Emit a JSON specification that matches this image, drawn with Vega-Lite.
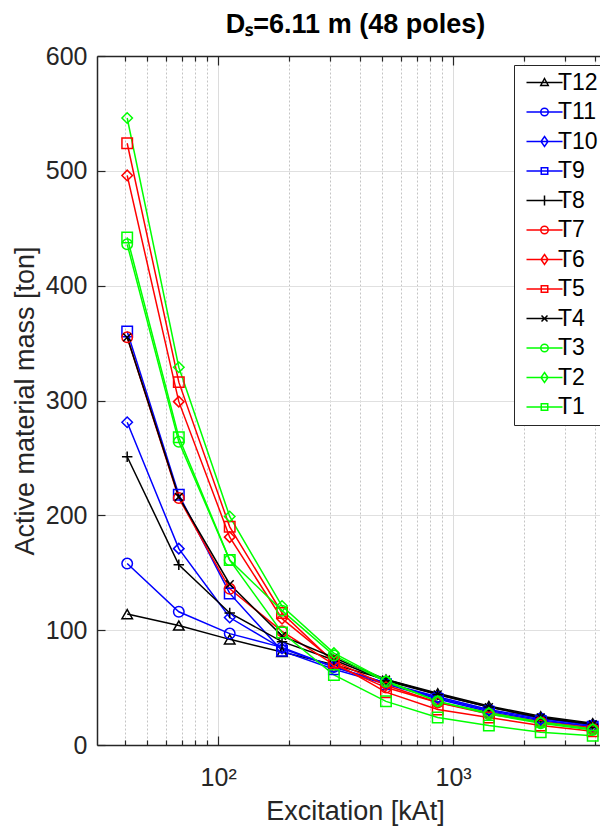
{
  "$schema": "https://vega.github.io/schema/vega-lite/v6.json",
  "width": 503,
  "height": 689,
  "autosize": {"type": "none"},
  "padding": {"left": 97, "top": 56, "right": 0, "bottom": 82},
  "background": "white",
  "config": {
    "font": "Liberation Sans",
    "view": {"stroke": null},
    "axis": {"domainColor": "#262626", "tickColor": "#262626", "labelColor": "#262626", "titleColor": "#262626", "labelFontSize": 25, "titleFontSize": 27, "titleFontWeight": "normal", "domainWidth": 1.5, "tickWidth": 1.2}
  },
  "title": {"text": "Dₛ=6.11 m (48 poles)", "fontSize": 27, "fontWeight": "bold", "color": "#000000", "anchor": "middle", "frame": "group", "offset": 5, "dx": 7},
  "data": {"values": [
    {"s":"T12","x":41,"y":114},{"s":"T12","x":68,"y":104},{"s":"T12","x":112,"y":92},{"s":"T12","x":187,"y":81},{"s":"T12","x":311,"y":70},{"s":"T12","x":518,"y":57},{"s":"T12","x":860,"y":45},{"s":"T12","x":1420,"y":34},{"s":"T12","x":2360,"y":25},{"s":"T12","x":3930,"y":19},
    {"s":"T11","x":41,"y":158},{"s":"T11","x":68,"y":116},{"s":"T11","x":112,"y":97},{"s":"T11","x":187,"y":85},{"s":"T11","x":311,"y":68},{"s":"T11","x":518,"y":54},{"s":"T11","x":860,"y":42},{"s":"T11","x":1420,"y":31},{"s":"T11","x":2360,"y":23},{"s":"T11","x":3930,"y":17},
    {"s":"T10","x":41,"y":281},{"s":"T10","x":68,"y":171},{"s":"T10","x":112,"y":111},{"s":"T10","x":187,"y":84},{"s":"T10","x":311,"y":68},{"s":"T10","x":518,"y":54},{"s":"T10","x":860,"y":41},{"s":"T10","x":1420,"y":30},{"s":"T10","x":2360,"y":22},{"s":"T10","x":3930,"y":16},
    {"s":"T9","x":41,"y":360},{"s":"T9","x":68,"y":218},{"s":"T9","x":112,"y":132},{"s":"T9","x":187,"y":82},{"s":"T9","x":311,"y":66},{"s":"T9","x":518,"y":53},{"s":"T9","x":860,"y":40},{"s":"T9","x":1420,"y":29},{"s":"T9","x":2360,"y":21},{"s":"T9","x":3930,"y":16},
    {"s":"T8","x":41,"y":251},{"s":"T8","x":68,"y":157},{"s":"T8","x":112,"y":115},{"s":"T8","x":187,"y":90},{"s":"T8","x":311,"y":74},{"s":"T8","x":518,"y":56},{"s":"T8","x":860,"y":44},{"s":"T8","x":1420,"y":33},{"s":"T8","x":2360,"y":24},{"s":"T8","x":3930,"y":18},
    {"s":"T7","x":41,"y":355},{"s":"T7","x":68,"y":215},{"s":"T7","x":112,"y":136},{"s":"T7","x":187,"y":99},{"s":"T7","x":311,"y":70},{"s":"T7","x":518,"y":50},{"s":"T7","x":860,"y":37},{"s":"T7","x":1420,"y":27},{"s":"T7","x":2360,"y":20},{"s":"T7","x":3930,"y":14},
    {"s":"T6","x":41,"y":496},{"s":"T6","x":68,"y":299},{"s":"T6","x":112,"y":181},{"s":"T6","x":187,"y":110},{"s":"T6","x":311,"y":73},{"s":"T6","x":518,"y":52},{"s":"T6","x":860,"y":37},{"s":"T6","x":1420,"y":28},{"s":"T6","x":2360,"y":20},{"s":"T6","x":3930,"y":15},
    {"s":"T5","x":41,"y":524},{"s":"T5","x":68,"y":316},{"s":"T5","x":112,"y":190},{"s":"T5","x":187,"y":115},{"s":"T5","x":311,"y":72},{"s":"T5","x":518,"y":46},{"s":"T5","x":860,"y":31},{"s":"T5","x":1420,"y":24},{"s":"T5","x":2360,"y":17},{"s":"T5","x":3930,"y":12},
    {"s":"T4","x":41,"y":355},{"s":"T4","x":68,"y":216},{"s":"T4","x":112,"y":140},{"s":"T4","x":187,"y":95},{"s":"T4","x":311,"y":76},{"s":"T4","x":518,"y":57},{"s":"T4","x":860,"y":44},{"s":"T4","x":1420,"y":33},{"s":"T4","x":2360,"y":24},{"s":"T4","x":3930,"y":18},
    {"s":"T3","x":41,"y":436},{"s":"T3","x":68,"y":264},{"s":"T3","x":112,"y":161},{"s":"T3","x":187,"y":117},{"s":"T3","x":311,"y":78},{"s":"T3","x":518,"y":55},{"s":"T3","x":860,"y":38},{"s":"T3","x":1420,"y":27},{"s":"T3","x":2360,"y":19},{"s":"T3","x":3930,"y":13},
    {"s":"T2","x":41,"y":546},{"s":"T2","x":68,"y":329},{"s":"T2","x":112,"y":199},{"s":"T2","x":187,"y":121},{"s":"T2","x":311,"y":80},{"s":"T2","x":518,"y":56},{"s":"T2","x":860,"y":38},{"s":"T2","x":1420,"y":28},{"s":"T2","x":2360,"y":20},{"s":"T2","x":3930,"y":14},
    {"s":"T1","x":41,"y":442},{"s":"T1","x":68,"y":268},{"s":"T1","x":112,"y":161},{"s":"T1","x":187,"y":98},{"s":"T1","x":311,"y":61},{"s":"T1","x":518,"y":38},{"s":"T1","x":860,"y":24},{"s":"T1","x":1420,"y":17},{"s":"T1","x":2360,"y":11},{"s":"T1","x":3930,"y":8}
  ]},
  "layer": [
    {
      "mark": {"type": "line", "strokeWidth": 1.5},
      "encoding": {
        "x": {"field": "x", "type": "quantitative", "scale": {"type": "log", "domain": [30.5, 4220], "nice": false},
              "axis": {"orient": "bottom", "values": [40,50,60,70,80,90,200,300,400,500,600,700,800,900,2000,3000,4000], "labels": false, "grid": true, "gridDash": [2, 2], "gridColor": "#c4c4c4", "tickSize": -5, "domain": false, "title": null}},
        "y": {"field": "y", "type": "quantitative", "scale": {"domain": [0, 600], "nice": false},
              "axis": {"values": [0,100,200,300,400,500,600], "tickSize": -8, "labelPadding": 18, "grid": true, "gridColor": "#e0e0e0", "title": "Active material mass [ton]", "titlePadding": 6}},
        "color": {"field": "s", "type": "nominal",
                  "scale": {"domain": ["T12","T11","T10","T9","T8","T7","T6","T5","T4","T3","T2","T1"], "range": ["#000000","#0000ff","#0000ff","#0000ff","#000000","#ff0000","#ff0000","#ff0000","#000000","#00ff00","#00ff00","#00ff00"]}}
      }
    },
    {
      "mark": {"type": "point", "filled": false, "size": 110, "strokeWidth": 1.5, "opacity": 1},
      "encoding": {
        "x": {"field": "x", "type": "quantitative", "scale": {"type": "log", "domain": [30.5, 4220], "nice": false},
              "axis": {"orient": "bottom", "values": [100, 1000], "labelExpr": "datum.value == 100 ? '10²' : '10³'", "grid": true, "gridColor": "#dcdcdc", "tickSize": -9, "labelPadding": 29, "title": "Excitation [kAt]", "titleX": 258, "titlePadding": 8}},
        "y": {"field": "y", "type": "quantitative"},
        "color": {"field": "s", "type": "nominal",
                  "legend": {"title": null, "orient": "none", "legendX": 417, "legendY": 9, "padding": 6, "rowPadding": 5.5, "symbolSize": 100, "symbolOffset": 13, "labelOffset": 2, "labelFontSize": 23, "labelColor": "#000000", "strokeColor": "#262626", "fillColor": "#ffffff", "symbolStrokeWidth": 1.5, "symbolFillColor": "transparent",
                    "symbolType": {"expr": "datum.value == 'T12' ? 'M-3.6,0H3.6M0,-0.8L0.75,0.6L-0.75,0.6Z' : (datum.value == 'T11' || datum.value == 'T7' || datum.value == 'T3') ? 'M-3.6,0H3.6M0.75,0A0.75,0.75,0,1,1,-0.75,0A0.75,0.75,0,1,1,0.75,0Z' : (datum.value == 'T10' || datum.value == 'T6' || datum.value == 'T2') ? 'M-3.6,0H3.6M0,-1L0.7,0L0,1L-0.7,0Z' : (datum.value == 'T9' || datum.value == 'T5' || datum.value == 'T1') ? 'M-3.6,0H3.6M-0.65,-0.65H0.65V0.65H-0.65Z' : datum.value == 'T8' ? 'M-3.6,0H3.6M0,-1V1' : 'M-3.6,0H3.6M-0.6,-0.6L0.6,0.6M-0.6,0.6L0.6,-0.6'"}}},
        "shape": {"field": "s", "type": "nominal", "legend": null,
                  "scale": {"domain": ["T1","T2","T3","T4","T5","T6","T7","T8","T9","T10","T11","T12"], "range": ["square","diamond","circle","M-0.75,-0.75L0.75,0.75M-0.75,0.75L0.75,-0.75","square","diamond","circle","M-1,0H1M0,-1V1","square","diamond","circle","triangle-up"]}}
      }
    },
    {
      "mark": {"type": "rule", "opacity": 0},
      "encoding": {
        "x": {"field": "x", "type": "quantitative",
              "axis": {"orient": "top", "values": [40,50,60,70,80,90,100,200,300,400,500,600,700,800,900,1000,2000,3000,4000], "labels": false, "grid": false, "tickSize": {"condition": {"test": "datum.value == 100 || datum.value == 1000", "value": -9}, "value": -5}, "title": null}}
      }
    }
  ],
  "resolve": {"axis": {"x": "independent"}}
}
